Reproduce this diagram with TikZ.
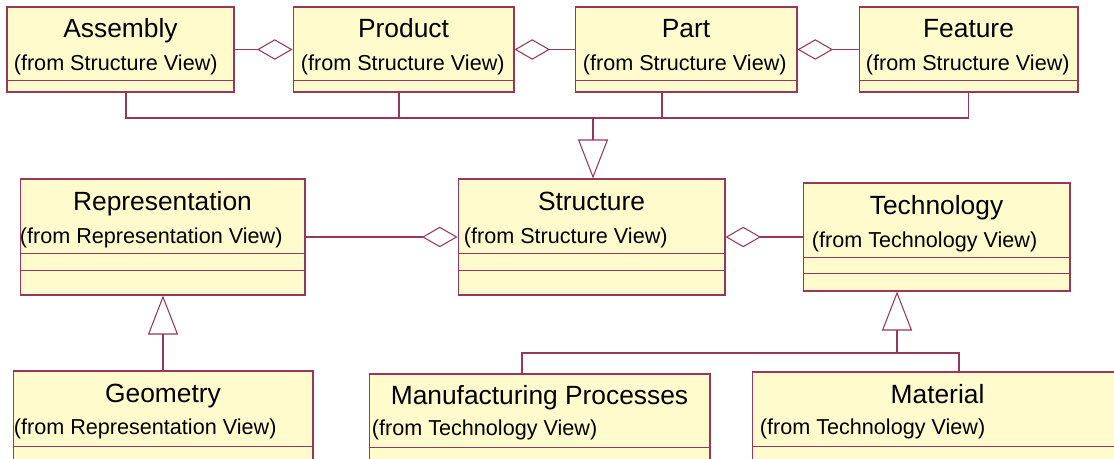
\documentclass[tikz,border=0pt]{standalone}
\usepackage{fontspec}
\setmainfont{Liberation Sans}
\usetikzlibrary{arrows.meta}
\definecolor{umlfill}{RGB}{255,251,204}
\definecolor{umlline}{RGB}{150,56,92}

\begin{document}
\begin{tikzpicture}[
    x=0.02cm, y=-0.02cm,
    classbox/.style={draw=umlline, fill=umlfill, line width=0.6pt, inner sep=0pt},
    ttl/.style={font=\fontsize{15}{17}\selectfont, anchor=base, inner sep=0pt},
    sub/.style={font=\fontsize{12.3}{14}\selectfont, anchor=base west, inner sep=0pt},
    sep/.style={draw=umlline, line width=0.6pt},
    rel/.style={draw=umlline, line width=0.6pt},
    agg/.style={rel, -{Diamond[open, length=0.71cm, width=0.41cm]}},
    gen/.style={rel, -{Triangle[open, length=0.78cm, width=0.6cm]}}
]
\useasboundingbox (0,0) rectangle (1114,459);
\clip (0,0) rectangle (1114,459);

% top row
\node[classbox, minimum width=4.54cm, minimum height=1.70cm] (asm) at (120.5,49.5) {};
\node[ttl] (asmT) at ([yshift=-0.62cm]asm.north) {Assembly};
\node[sub] (asmS) at ([xshift=0.14cm, yshift=-1.28cm]asm.north west) {(from Structure View)};
\draw[sep] ([yshift=-1.48cm]asm.north west) -- ([yshift=-1.48cm]asm.north east);

\node[classbox, minimum width=4.42cm, minimum height=1.70cm] (prod) at (403.5,49.5) {};
\node[ttl] (prodT) at ([yshift=-0.62cm]prod.north) {Product};
\node[sub] (prodS) at ([xshift=0.16cm, yshift=-1.28cm]prod.north west) {(from Structure View)};
\draw[sep] ([yshift=-1.48cm]prod.north west) -- ([yshift=-1.48cm]prod.north east);

\node[classbox, minimum width=4.44cm, minimum height=1.70cm] (part) at (686,49.5) {};
\node[ttl] (partT) at ([yshift=-0.62cm]part.north) {Part};
\node[sub] (partS) at ([xshift=0.16cm, yshift=-1.28cm]part.north west) {(from Structure View)};
\draw[sep] ([yshift=-1.48cm]part.north west) -- ([yshift=-1.48cm]part.north east);

\node[classbox, minimum width=4.38cm, minimum height=1.70cm] (feat) at (968.5,49.5) {};
\node[ttl] (featT) at ([yshift=-0.62cm]feat.north) {Feature};
\node[sub] (featS) at ([xshift=0.14cm, yshift=-1.28cm]feat.north west) {(from Structure View)};
\draw[sep] ([yshift=-1.48cm]feat.north west) -- ([yshift=-1.48cm]feat.north east);

% middle row
\node[classbox, minimum width=5.70cm, minimum height=2.32cm] (rep) at (162.5,237) {};
\node[ttl] (repT) at ([yshift=-0.64cm]rep.north) {Representation};
\node[sub] (repS) at ([xshift=0cm, yshift=-1.30cm]rep.north west) {(from Representation View)};
\draw[sep] ([yshift=-1.50cm]rep.north west) -- ([yshift=-1.50cm]rep.north east);
\draw[sep] ([yshift=-1.84cm]rep.north west) -- ([yshift=-1.84cm]rep.north east);

\node[classbox, minimum width=5.34cm, minimum height=2.32cm] (struct) at (591.5,237) {};
\node[ttl] (structT) at ([yshift=-0.64cm]struct.north) {Structure};
\node[sub] (structS) at ([xshift=0.12cm, yshift=-1.30cm]struct.north west) {(from Structure View)};
\draw[sep] ([yshift=-1.50cm]struct.north west) -- ([yshift=-1.50cm]struct.north east);
\draw[sep] ([yshift=-1.84cm]struct.north west) -- ([yshift=-1.84cm]struct.north east);

\node[classbox, minimum width=5.34cm, minimum height=2.16cm] (tech) at (936.5,237) {};
\node[ttl] (techT) at ([yshift=-0.64cm]tech.north) {Technology};
\node[sub] (techS) at ([xshift=0.18cm, yshift=-1.30cm]tech.north west) {(from Technology View)};
\draw[sep] ([yshift=-1.50cm]tech.north west) -- ([yshift=-1.50cm]tech.north east);
\draw[sep] ([yshift=-1.82cm]tech.north west) -- ([yshift=-1.82cm]tech.north east);

% bottom row
\node[classbox, minimum width=6.00cm, minimum height=2.40cm] (geom) at (163,431) {};
\node[ttl] (geomT) at ([yshift=-0.64cm]geom.north) {Geometry};
\node[sub] (geomS) at ([xshift=0.02cm, yshift=-1.28cm]geom.north west) {(from Representation View)};
\draw[sep] ([yshift=-1.52cm]geom.north west) -- ([yshift=-1.52cm]geom.north east);

\node[classbox, minimum width=6.82cm, minimum height=2.40cm] (manu) at (539.5,434) {};
\node[ttl] (manuT) at ([yshift=-0.62cm]manu.north) {Manufacturing Processes};
\node[sub] (manuS) at ([xshift=0.06cm, yshift=-1.24cm]manu.north west) {(from Technology View)};
\draw[sep] ([yshift=-1.48cm]manu.north west) -- ([yshift=-1.48cm]manu.north east);

\node[classbox, minimum width=7.42cm, minimum height=2.40cm] (mat) at (937.5,432) {};
\node[ttl] (matT) at ([yshift=-0.64cm]mat.north) {Material};
\node[sub] (matS) at ([xshift=0.16cm, yshift=-1.26cm]mat.north west) {(from Technology View)};
\draw[sep] ([yshift=-1.50cm]mat.north west) -- ([yshift=-1.50cm]mat.north east);

% aggregations
\draw[agg] (asm.east) -- (prod.west);
\draw[agg] (part.west) -- (prod.east);
\draw[agg] (feat.west) -- (part.east);
\draw[agg] (rep.east) -- (struct.west);
\draw[agg] (tech.west) -- (struct.east);

% generalizations
\coordinate (bus) at (593,118);
\draw[rel] ([xshift=0.11cm]asm.south) |- (bus);
\draw[rel] ([xshift=-0.09cm]prod.south) |- (bus);
\draw[rel] ([xshift=-0.48cm]part.south) |- (bus);
\draw[rel] (feat.south) |- (bus);
\draw[gen] (bus) -- (bus |- struct.north);

\draw[gen] (geom.north) -- (geom.north |- rep.south);

\coordinate (tjoin) at (897,353);
\draw[rel] ([xshift=-0.35cm]manu.north) |- (tjoin);
\draw[rel] ([xshift=0.43cm]mat.north) |- (tjoin);
\draw[gen] (tjoin) -- (tjoin |- tech.south);

\end{tikzpicture}
\end{document}
